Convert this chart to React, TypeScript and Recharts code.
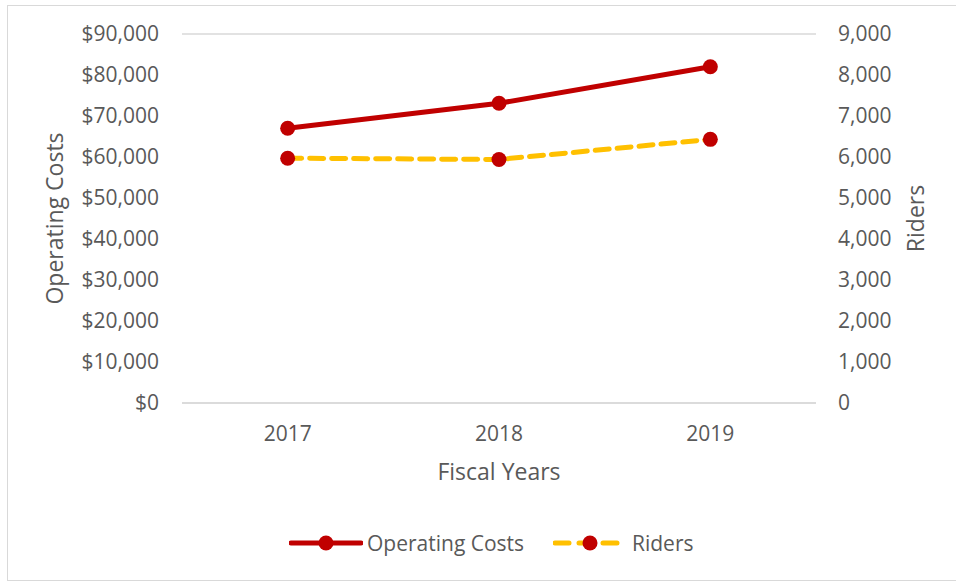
import React from 'react';
import { LineChart, Line, XAxis, YAxis, CartesianGrid } from 'recharts';

const years = ['2017', '2018', '2019'];
const operatingCosts = [67000, 73100, 82000];
const riders = [5970, 5940, 6430];
const costTicks = [0, 10000, 20000, 30000, 40000, 50000, 60000, 70000, 80000, 90000];
const riderTicks = [0, 1000, 2000, 3000, 4000, 5000, 6000, 7000, 8000, 9000];

const RED = '#C00000';
const GOLD = '#FFC000';
const TEXT = '#595959';
const FONT = '"Open Sans", sans-serif';

const data = years.map((year, i) => ({
  year,
  costs: operatingCosts[i],
  riders: riders[i],
}));

const tickStyle = { fontSize: 21, fill: TEXT, fontFamily: FONT };

const LegendMark: React.FC<{ dashed?: boolean; color: string; left: number }> = ({ dashed, color, left }) => (
  <svg width={74} height={20} style={{ position: 'absolute', left, top: 0, display: 'block' }}>
    <line
      x1={2}
      y1={10}
      x2={72}
      y2={10}
      stroke={color}
      strokeWidth={5}
      strokeLinecap="round"
      strokeDasharray={dashed ? '14 10' : undefined}
    />
    <circle cx={37} cy={10} r={7.5} fill={RED} />
  </svg>
);

const legendText: React.CSSProperties = {
  position: 'absolute',
  top: -4,
  fontSize: 21,
  lineHeight: '28px',
  color: TEXT,
  fontFamily: FONT,
  whiteSpace: 'nowrap',
};

export default function App() {
  return (
    <div style={{ position: 'absolute', left: 0, top: 0, width: 956, height: 583, background: '#fff' }}>
      <div
        style={{
          position: 'absolute',
          left: 7,
          top: 5,
          width: 960,
          height: 576,
          border: '1px solid #d9d9d9',
          boxSizing: 'border-box',
        }}
      />
      <div style={{ position: 'absolute', left: 0, top: 0 }}>
        <LineChart width={956} height={520} data={data} margin={{ top: 34, right: 0, bottom: 37, left: 0 }}>
          <CartesianGrid vertical={false} stroke="#d9d9d9" strokeWidth={1.3} />
          <XAxis
            dataKey="year"
            scale="band"
            axisLine={{ stroke: '#d9d9d9', strokeWidth: 1.3 }}
            tickLine={false}
            tickSize={0}
            tickMargin={23}
            height={80}
            tick={tickStyle}
            label={{ value: 'Fiscal Years', position: 'insideBottom', offset: 3, fill: TEXT, fontSize: 23, fontFamily: FONT }}
          />
          <YAxis
            yAxisId="left"
            width={182}
            domain={[0, 90000]}
            ticks={costTicks}
            axisLine={false}
            tickLine={false}
            tickSize={0}
            tickMargin={23}
            tick={tickStyle}
            tickFormatter={(v: number) => `$${v.toLocaleString('en-US')}`}
            label={{
              content: ({ viewBox }: any) => {
                const cy = viewBox.y + viewBox.height / 2;
                return (
                  <text
                    x={63}
                    y={cy}
                    transform={`rotate(-90 63 ${cy})`}
                    textAnchor="middle"
                    fill={TEXT}
                    fontSize={23}
                    fontFamily={FONT}
                  >
                    Operating Costs
                  </text>
                );
              },
            }}
          />
          <YAxis
            yAxisId="right"
            orientation="right"
            width={140}
            domain={[0, 9000]}
            ticks={riderTicks}
            axisLine={false}
            tickLine={false}
            tickSize={0}
            tickMargin={22}
            tick={tickStyle}
            tickFormatter={(v: number) => v.toLocaleString('en-US')}
            label={{
              content: ({ viewBox }: any) => {
                const cy = viewBox.y + viewBox.height / 2;
                return (
                  <text
                    x={924}
                    y={cy}
                    transform={`rotate(-90 924 ${cy})`}
                    textAnchor="middle"
                    fill={TEXT}
                    fontSize={23}
                    fontFamily={FONT}
                  >
                    Riders
                  </text>
                );
              },
            }}
          />
          <Line
            yAxisId="right"
            dataKey="riders"
            type="linear"
            stroke={GOLD}
            strokeWidth={5}
            strokeDasharray="14 8"
            strokeLinecap="round"
            dot={{ r: 7.5, fill: RED, stroke: 'none' }}
            isAnimationActive={false}
          />
          <Line
            yAxisId="left"
            dataKey="costs"
            type="linear"
            stroke={RED}
            strokeWidth={5}
            dot={{ r: 7.5, fill: RED, stroke: 'none' }}
            isAnimationActive={false}
          />
        </LineChart>
      </div>
      <div style={{ position: 'absolute', left: 0, top: 533, width: 956, height: 20 }}>
        <LegendMark color={RED} left={289} />
        <span style={{ ...legendText, left: 367 }}>Operating Costs</span>
        <LegendMark color={GOLD} left={553} dashed />
        <span style={{ ...legendText, left: 632 }}>Riders</span>
      </div>
    </div>
  );
}
